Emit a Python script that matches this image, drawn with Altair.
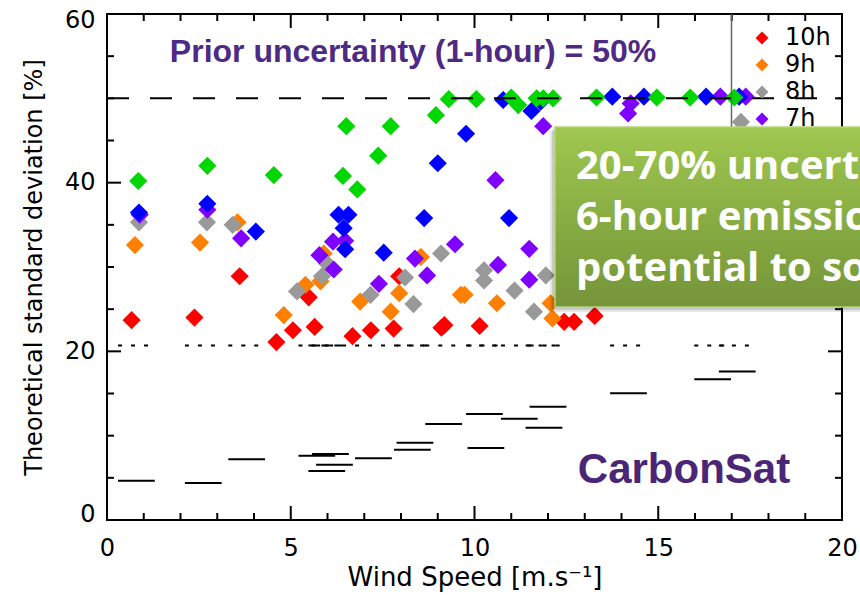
import altair as alt
import pandas as pd

# ---------------- data ----------------
series_labels = ["10h", "9h", "8h", "7h", "6h", "5h"]
series_colors = ["#FF0000", "#FF7F00", "#999999", "#7F00FF", "#0000FF", "#00D700"]

red_ws = [0.67, 2.38, 3.61, 4.61, 5.06, 5.49, 5.65, 6.68, 7.18, 7.80, 7.95, 9.10, 9.18, 10.14, 12.44, 12.71, 13.27]
red_sd = [23.7, 24.0, 28.9, 21.1, 22.5, 26.4, 22.9, 21.8, 22.5, 22.7, 28.9, 22.8, 23.1, 23.0, 23.5, 23.5, 24.2]

orange_ws = [0.76, 2.53, 3.55, 4.81, 5.40, 5.81, 5.90, 6.89, 7.72, 7.95, 8.54, 9.63, 9.73, 10.61, 12.07, 12.12]
orange_sd = [32.6, 32.9, 35.3, 24.3, 27.9, 28.3, 31.6, 25.9, 24.7, 26.9, 31.2, 26.7, 26.7, 25.7, 25.7, 23.9]

gray_ws = [0.87, 2.72, 3.42, 5.17, 5.85, 5.99, 7.17, 8.11, 8.34, 9.09, 10.26, 10.26, 11.09, 11.62, 11.94, 17.25]
gray_sd = [35.3, 35.3, 35.0, 27.1, 28.9, 30.4, 26.7, 28.75, 25.6, 31.6, 29.6, 28.4, 27.2, 24.7, 29.0, 47.2]

purple_ws = [0.89, 2.73, 3.65, 5.78, 6.15, 6.17, 6.48, 7.40, 8.38, 8.71, 9.47, 10.57, 10.64, 11.49, 11.49, 11.87, 14.18, 14.25, 16.69, 17.38]
purple_sd = [36.2, 36.8, 33.4, 31.4, 33.0, 29.7, 33.1, 28.0, 31.0, 29.0, 32.7, 40.3, 30.25, 32.15, 28.5, 46.7, 48.2, 49.4, 50.2, 50.2]

blue_ws = [0.87, 2.73, 4.05, 6.30, 6.57, 6.44, 6.48, 7.53, 8.63, 9.00, 9.77, 10.78, 10.94, 11.55, 11.80, 13.75, 14.61, 16.30, 17.20]
blue_sd = [36.45, 37.5, 34.2, 36.2, 36.2, 34.6, 32.1, 31.7, 35.8, 42.3, 45.8, 49.8, 35.8, 48.5, 49.6, 50.2, 50.2, 50.2, 50.2]

green_ws = [0.85, 2.73, 4.54, 6.42, 6.51, 6.81, 7.38, 7.72, 8.95, 9.30, 10.05, 11.00, 11.19, 11.69, 11.87, 12.14, 13.32, 14.96, 15.87, 17.07]
green_sd = [40.2, 42.0, 40.9, 40.8, 46.7, 39.2, 43.2, 46.7, 48.0, 49.9, 49.9, 50.1, 49.2, 50.0, 50.0, 50.0, 50.1, 50.1, 50.1, 50.1]

# CarbonSat precision per case (horizontal bars, 1 m/s wide)
seg_ws = [0.80, 2.62, 3.80, 5.71, 6.08, 6.19, 5.98, 7.25, 8.38, 8.31, 9.16, 10.27, 10.31, 11.22, 12.00, 11.89, 14.19, 16.48, 17.15]
seg_sd = [4.66, 4.39, 7.2, 7.63, 7.83, 6.56, 5.81, 7.32, 9.17, 8.34, 11.39, 12.57, 8.54, 12.02, 13.44, 10.95, 15.03, 16.69, 17.6]
bar_half_width = 0.5
dotted_level = 20.7
prior_level = 50

x_major = [0, 5, 10, 15, 20]
x_minor = [1, 2, 3, 4, 6, 7, 8, 9, 11, 12, 13, 14, 16, 17, 18, 19]
y_major = [0, 20, 40, 60]
y_minor = [5, 10, 15, 25, 30, 35, 45, 50, 55]

prior_text = "Prior uncertainty (1-hour) = 50%"
sat_text = "CarbonSat"
box_lines = ["20-70% uncertainty on", "6-hour emissions:", "potential to solve"]
x_title = "Wind Speed [m.s\u207b\u00b9]"
y_title = "Theoretical standard deviation [%]"

# ---------------- tables ----------------
W, H = 735, 506
all_ws = [red_ws, orange_ws, gray_ws, purple_ws, blue_ws, green_ws]
all_sd = [red_sd, orange_sd, gray_sd, purple_sd, blue_sd, green_sd]
pts = pd.concat(
    [pd.DataFrame({"ws": w, "sd": s, "hour": lab}) for w, s, lab in zip(all_ws, all_sd, series_labels)],
    ignore_index=True,
)
seg = pd.DataFrame({"ws": seg_ws, "sd": seg_sd})
one = pd.DataFrame({"k": [0]})

FONT = "DejaVu Sans"
xscale = alt.Scale(domain=[0, 20], nice=False, zero=False)
yscale = alt.Scale(domain=[0, 60], nice=False, zero=False)
# the same axis objects are given to every layer so that the shared axes merge cleanly
xaxis = alt.Axis(values=x_major, title=x_title, labelFlush=False, labelPadding=16, titlePadding=4,
                 titleFontSize=26)
yaxis = alt.Axis(values=y_major, title=y_title, labelFlush=True, labelFlushOffset=6,
                 labelPadding=12, titlePadding=18, titleFontSize=24)

def X(field):
    return alt.X(field, scale=xscale, axis=xaxis)

def Y(field):
    return alt.Y(field, scale=yscale, axis=yaxis)

# ---------------- tick marks (inward, IDL style) ----------------
def xticks(vals, length):
    d = pd.DataFrame({"v": vals})
    b = alt.Chart(d).mark_rule(color="black", strokeWidth=2).encode(
        x=X("v:Q"), y=alt.value(H), y2=alt.value(H - length))
    t = alt.Chart(d).mark_rule(color="black", strokeWidth=2).encode(
        x=X("v:Q"), y=alt.value(0), y2=alt.value(length))
    return [b, t]

def yticks(vals, length):
    d = pd.DataFrame({"v": vals})
    l = alt.Chart(d).mark_rule(color="black", strokeWidth=2).encode(
        y=Y("v:Q"), x=alt.value(0), x2=alt.value(length))
    r = alt.Chart(d).mark_rule(color="black", strokeWidth=2).encode(
        y=Y("v:Q"), x=alt.value(W), x2=alt.value(W - length))
    return [l, r]

ticks = xticks(x_major, 14) + xticks(x_minor, 7) + yticks(y_major, 14) + yticks(y_minor, 7)

# ---------------- bars and reference lines ----------------
segbase = alt.Chart(seg).transform_calculate(
    x1=f"datum.ws - {bar_half_width}", x2=f"datum.ws + {bar_half_width}")
bars = segbase.mark_rule(color="black", strokeWidth=2).encode(
    x=X("x1:Q"), x2="x2:Q", y=Y("sd:Q"))
dotted = segbase.mark_rule(color="black", strokeWidth=2, strokeDash=[4, 9]).encode(
    x=X("x1:Q"), x2="x2:Q", y=alt.YDatum(dotted_level, scale=yscale, axis=yaxis))

# ---------------- points (and legend) ----------------
points = alt.Chart(pts).mark_point(shape="diamond", filled=True, size=330, opacity=1).encode(
    x=X("ws:Q"), y=Y("sd:Q"),
    color=alt.Color("hour:N", scale=alt.Scale(domain=series_labels, range=series_colors),
                    legend=alt.Legend(values=series_labels[:4], title=None, orient="none",
                                      legendX=643, legendY=12, padding=0, symbolType="diamond",
                                      symbolSize=170, symbolStrokeWidth=0, labelFont=FONT,
                                      labelFontSize=24, labelColor="black", labelOffset=11,
                                      rowPadding=3)),
)

dashed = alt.Chart(one).mark_rule(color="black", strokeWidth=2, strokeDash=[22, 21]).encode(
    x=alt.XDatum(0, scale=xscale, axis=xaxis), x2=alt.X2Datum(20),
    y=alt.YDatum(prior_level, scale=yscale, axis=yaxis))

# ---------------- annotations ----------------
prior = alt.Chart(one).mark_text(text=prior_text, font="Liberation Sans", fontWeight="bold", fontSize=32,
                                 color="#4E2A84", align="center", baseline="middle").encode(
    x=alt.value(306), y=alt.value(38))
sat = alt.Chart(one).mark_text(text=sat_text, font="Liberation Sans", fontWeight="bold", fontSize=42,
                               color="#4B2576", align="center", baseline="middle").encode(
    x=alt.value(577), y=alt.value(456))
legend_edge = alt.Chart(one).mark_rule(color="#666666", strokeWidth=1.5).encode(
    x=alt.value(624.5), y=alt.value(0), y2=alt.value(113))
shadow1 = alt.Chart(one).mark_rect(color="#000000", opacity=0.10).encode(
    x=alt.value(443), x2=alt.value(760), y=alt.value(117), y2=alt.value(298))
shadow2 = alt.Chart(one).mark_rect(color="#000000", opacity=0.12).encode(
    x=alt.value(445), x2=alt.value(760), y=alt.value(115), y2=alt.value(296))
grad = alt.LinearGradient(gradient="linear", x1=0, x2=0, y1=0, y2=1,
                          stops=[alt.GradientStop(color="#9FC850", offset=0),
                                 alt.GradientStop(color="#88AD43", offset=0.5),
                                 alt.GradientStop(color="#759539", offset=1)])
box = alt.Chart(one).mark_rect(fill=grad, stroke="#B4D27C", strokeWidth=1.5).encode(
    x=alt.value(448), x2=alt.value(760), y=alt.value(113), y2=alt.value(293))
box_text = alt.Chart(one).mark_text(text=box_lines, font="Open Sans", fontWeight="bold", fontSize=40,
                                    color="white", align="left", baseline="alphabetic", lineHeight=51).encode(
    x=alt.value(469), y=alt.value(165))

chart = alt.layer(
    *ticks, bars, dotted, points, dashed, prior, sat, legend_edge, shadow1, shadow2, box, box_text
).properties(
    width=W, height=H,
    autosize=alt.AutoSizeParams(type="none"),
    padding={"left": 107, "right": 18, "top": 14, "bottom": 75},
    background="white",
).configure_view(stroke="black", strokeWidth=2).configure_axis(
    grid=False, domain=False, ticks=False, tickSize=0,
    labelFont=FONT, labelFontSize=24, labelColor="black",
    titleFont=FONT, titleFontWeight="normal", titleColor="black",
)

chart.save("out.html", embed_options={"renderer": "svg", "actions": False})
